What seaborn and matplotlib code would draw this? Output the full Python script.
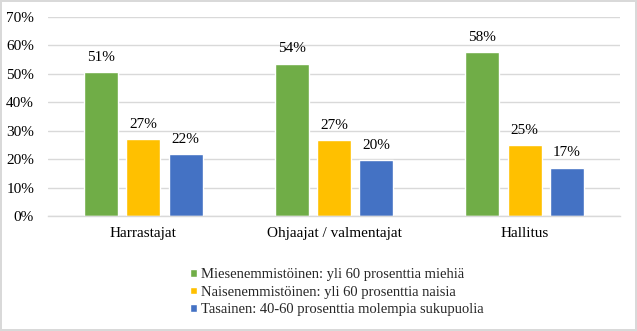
import matplotlib
matplotlib.use("Agg")
import matplotlib.pyplot as plt
import seaborn as sns
import pandas as pd
from matplotlib.ticker import FuncFormatter

categories = ["Harrastajat", "Ohjaajat / valmentajat", "Hallitus"]
series = ["Miesenemmistöinen: yli 60 prosenttia miehiä",
          "Naisenemmistöinen: yli 60 prosenttia naisia",
          "Tasainen: 40-60 prosenttia molempia sukupuolia"]
mies = [50.7, 53.6, 57.6]
nais = [27.0, 26.6, 24.9]
tasa = [21.8, 19.6, 17.0]
colors = ["#70AD47", "#FFC000", "#4472C4"]

rows = []
for s, vals in zip(series, [mies, nais, tasa]):
    for c, v in zip(categories, vals):
        rows.append({"cat": c, "series": s, "val": v})
df = pd.DataFrame(rows)

sns.set_theme(style="white")
plt.rcParams["font.family"] = ["Liberation Serif", "DejaVu Serif"]

FS = 10.5

fig = plt.figure(figsize=(6.37, 3.31), dpi=100)
fig.patch.set_edgecolor("#D9D9D9")
fig.patch.set_linewidth(1.5)
ax = fig.add_axes([48/637, 115/331, 572/637, 199/331])

sns.barplot(data=df, x="cat", y="val", hue="series", palette=colors,
            width=0.667, gap=0.2, ax=ax, legend=True, saturation=1)

ax.set_ylim(0, 70)
ax.set_xlim(-0.5, 2.5)
ax.set_yticks(range(0, 71, 10))
ax.yaxis.set_major_formatter(FuncFormatter(lambda v, p: f"{int(v)}%"))
ax.grid(axis="y", color="#D9D9D9", linewidth=1)
ax.set_axisbelow(True)
for s in ["top", "right", "left"]:
    ax.spines[s].set_visible(False)
ax.spines["bottom"].set_color("#D9D9D9")
ax.spines["bottom"].set_linewidth(1)
ax.tick_params(axis="both", length=0, labelsize=FS + 0.5, colors="black")
ax.tick_params(axis="x", pad=8)
ax.tick_params(axis="y", pad=10)
ax.set_xlabel("")
ax.set_ylabel("")

for cont in ax.containers:
    ax.bar_label(cont, labels=[f"{round(b.get_height()):d}%" for b in cont],
                 padding=6, fontsize=FS + 0.5, color="black")

handles, labels = ax.get_legend_handles_labels()
ax.get_legend().remove()
fig.legend(handles, labels, loc="upper left", bbox_to_anchor=(190/637, 1 - 268/331),
           frameon=False, fontsize=FS, handlelength=0.45, handleheight=0.45,
           handletextpad=0.3, labelspacing=0.32, borderpad=0, borderaxespad=0)

fig.savefig("out.png", dpi=100)
